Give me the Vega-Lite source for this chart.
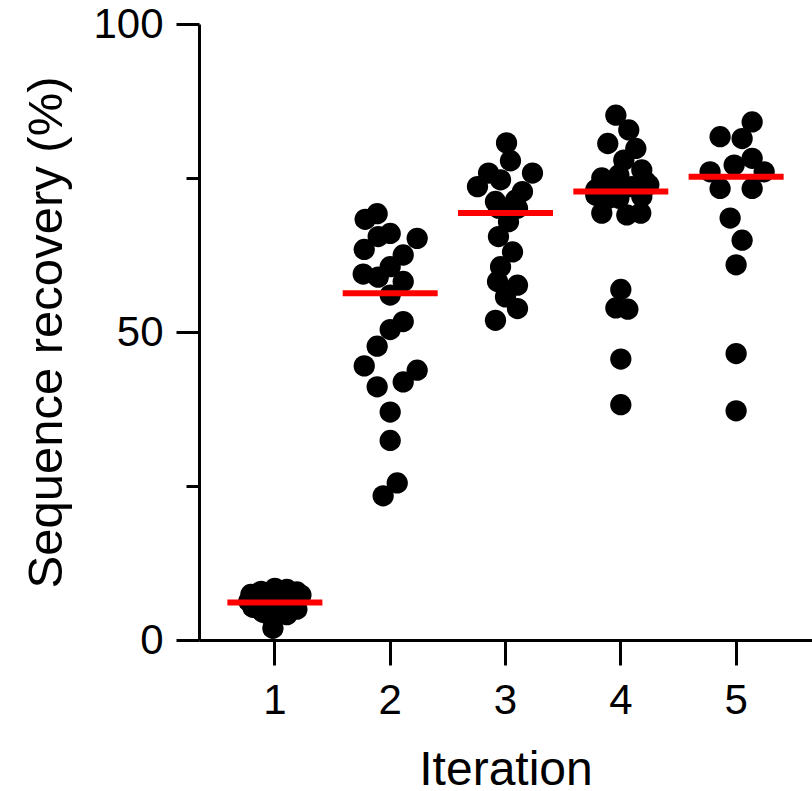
{
  "$schema": "https://vega.github.io/schema/vega-lite/v6.json",
  "width": 613,
  "height": 616,
  "padding": {"left": 199, "top": 24, "right": 0, "bottom": 151},
  "autosize": {"type": "none"},
  "background": "white",
  "config": {"view": {"stroke": null}, "font": "Liberation Sans"},
  "datasets": {
    "points": [
      {"iteration": "1", "recovery": 8.4, "jitter": 0},
      {"iteration": "1", "recovery": 8.2, "jitter": 0.104},
      {"iteration": "1", "recovery": 7.9, "jitter": -0.121},
      {"iteration": "1", "recovery": 7.8, "jitter": 0.191},
      {"iteration": "1", "recovery": 7.4, "jitter": -0.208},
      {"iteration": "1", "recovery": 7.3, "jitter": 0.226},
      {"iteration": "1", "recovery": 7.0, "jitter": -0.043},
      {"iteration": "1", "recovery": 6.9, "jitter": 0.069},
      {"iteration": "1", "recovery": 6.6, "jitter": -0.147},
      {"iteration": "1", "recovery": 6.3, "jitter": -0.226},
      {"iteration": "1", "recovery": 6.2, "jitter": 0.147},
      {"iteration": "1", "recovery": 6.0, "jitter": 0},
      {"iteration": "1", "recovery": 5.7, "jitter": -0.087},
      {"iteration": "1", "recovery": 5.5, "jitter": 0.104},
      {"iteration": "1", "recovery": 5.3, "jitter": -0.191},
      {"iteration": "1", "recovery": 5.0, "jitter": 0.191},
      {"iteration": "1", "recovery": 4.8, "jitter": 0.026},
      {"iteration": "1", "recovery": 4.5, "jitter": -0.104},
      {"iteration": "1", "recovery": 4.1, "jitter": 0.104},
      {"iteration": "1", "recovery": 4.0, "jitter": -0.043},
      {"iteration": "1", "recovery": 1.9, "jitter": -0.017},
      {"iteration": "2", "recovery": 68.3, "jitter": -0.217},
      {"iteration": "2", "recovery": 69.2, "jitter": -0.113},
      {"iteration": "2", "recovery": 65.5, "jitter": -0.104},
      {"iteration": "2", "recovery": 66.0, "jitter": 0},
      {"iteration": "2", "recovery": 65.2, "jitter": 0.234},
      {"iteration": "2", "recovery": 63.4, "jitter": -0.225},
      {"iteration": "2", "recovery": 62.5, "jitter": 0.113},
      {"iteration": "2", "recovery": 60.6, "jitter": 0},
      {"iteration": "2", "recovery": 59.4, "jitter": -0.234},
      {"iteration": "2", "recovery": 58.9, "jitter": -0.104},
      {"iteration": "2", "recovery": 58.2, "jitter": 0.113},
      {"iteration": "2", "recovery": 56.0, "jitter": 0},
      {"iteration": "2", "recovery": 51.7, "jitter": 0.113},
      {"iteration": "2", "recovery": 50.4, "jitter": 0},
      {"iteration": "2", "recovery": 47.7, "jitter": -0.113},
      {"iteration": "2", "recovery": 44.5, "jitter": -0.225},
      {"iteration": "2", "recovery": 43.8, "jitter": 0.234},
      {"iteration": "2", "recovery": 41.9, "jitter": 0.113},
      {"iteration": "2", "recovery": 41.1, "jitter": -0.113},
      {"iteration": "2", "recovery": 37.0, "jitter": 0},
      {"iteration": "2", "recovery": 32.4, "jitter": 0},
      {"iteration": "2", "recovery": 25.5, "jitter": 0.061},
      {"iteration": "2", "recovery": 23.4, "jitter": -0.061},
      {"iteration": "3", "recovery": 80.7, "jitter": 0.009},
      {"iteration": "3", "recovery": 77.8, "jitter": 0.043},
      {"iteration": "3", "recovery": 75.8, "jitter": -0.147},
      {"iteration": "3", "recovery": 75.8, "jitter": 0.234},
      {"iteration": "3", "recovery": 73.6, "jitter": -0.243},
      {"iteration": "3", "recovery": 74.7, "jitter": -0.043},
      {"iteration": "3", "recovery": 72.8, "jitter": 0.147},
      {"iteration": "3", "recovery": 71.2, "jitter": -0.087},
      {"iteration": "3", "recovery": 71.4, "jitter": 0.087},
      {"iteration": "3", "recovery": 70.1, "jitter": -0.061},
      {"iteration": "3", "recovery": 70.1, "jitter": 0.104},
      {"iteration": "3", "recovery": 67.9, "jitter": 0.026},
      {"iteration": "3", "recovery": 65.5, "jitter": -0.061},
      {"iteration": "3", "recovery": 63.0, "jitter": 0.061},
      {"iteration": "3", "recovery": 60.6, "jitter": -0.043},
      {"iteration": "3", "recovery": 58.2, "jitter": -0.069},
      {"iteration": "3", "recovery": 57.6, "jitter": 0.104},
      {"iteration": "3", "recovery": 55.7, "jitter": 0},
      {"iteration": "3", "recovery": 53.8, "jitter": 0.104},
      {"iteration": "3", "recovery": 51.9, "jitter": -0.087},
      {"iteration": "4", "recovery": 85.2, "jitter": -0.043},
      {"iteration": "4", "recovery": 82.8, "jitter": 0.069},
      {"iteration": "4", "recovery": 80.6, "jitter": -0.113},
      {"iteration": "4", "recovery": 79.8, "jitter": 0.130},
      {"iteration": "4", "recovery": 77.9, "jitter": 0.026},
      {"iteration": "4", "recovery": 76.3, "jitter": 0.182},
      {"iteration": "4", "recovery": 75.0, "jitter": -0.165},
      {"iteration": "4", "recovery": 75.5, "jitter": -0.017},
      {"iteration": "4", "recovery": 74.4, "jitter": 0.217},
      {"iteration": "4", "recovery": 73.1, "jitter": -0.217},
      {"iteration": "4", "recovery": 73.3, "jitter": -0.043},
      {"iteration": "4", "recovery": 73.6, "jitter": 0.095},
      {"iteration": "4", "recovery": 73.9, "jitter": 0.243},
      {"iteration": "4", "recovery": 72.2, "jitter": -0.217},
      {"iteration": "4", "recovery": 71.7, "jitter": -0.104},
      {"iteration": "4", "recovery": 72.0, "jitter": 0.182},
      {"iteration": "4", "recovery": 69.3, "jitter": -0.165},
      {"iteration": "4", "recovery": 69.0, "jitter": 0.052},
      {"iteration": "4", "recovery": 69.3, "jitter": 0.173},
      {"iteration": "4", "recovery": 71.7, "jitter": -0.017},
      {"iteration": "4", "recovery": 56.9, "jitter": 0},
      {"iteration": "4", "recovery": 53.9, "jitter": -0.043},
      {"iteration": "4", "recovery": 53.7, "jitter": 0.061},
      {"iteration": "4", "recovery": 45.6, "jitter": 0},
      {"iteration": "4", "recovery": 38.2, "jitter": 0},
      {"iteration": "5", "recovery": 84.1, "jitter": 0.139},
      {"iteration": "5", "recovery": 81.7, "jitter": -0.139},
      {"iteration": "5", "recovery": 81.4, "jitter": 0.052},
      {"iteration": "5", "recovery": 78.2, "jitter": 0.139},
      {"iteration": "5", "recovery": 77.1, "jitter": -0.017},
      {"iteration": "5", "recovery": 76.0, "jitter": -0.226},
      {"iteration": "5", "recovery": 76.0, "jitter": 0.243},
      {"iteration": "5", "recovery": 73.3, "jitter": -0.139},
      {"iteration": "5", "recovery": 73.3, "jitter": 0.139},
      {"iteration": "5", "recovery": 68.5, "jitter": -0.052},
      {"iteration": "5", "recovery": 64.9, "jitter": 0.052},
      {"iteration": "5", "recovery": 60.9, "jitter": 0},
      {"iteration": "5", "recovery": 46.5, "jitter": 0},
      {"iteration": "5", "recovery": 37.2, "jitter": 0}
    ],
    "medians": [
      {"iteration": "1", "median": 6.1},
      {"iteration": "2", "median": 56.3},
      {"iteration": "3", "median": 69.3},
      {"iteration": "4", "median": 72.8},
      {"iteration": "5", "median": 75.2}
    ]
  },
  "layer": [
    {
      "data": {"name": "points"},
      "mark": {"type": "circle", "size": 452, "opacity": 1, "color": "black"},
      "encoding": {
        "x": {
          "field": "iteration",
          "type": "nominal",
          "scale": {"type": "band", "paddingInner": 0, "paddingOuter": 0.158},
          "axis": {
            "title": "Iteration",
            "labelAngle": 0,
            "tickSize": 25,
            "tickWidth": 3,
            "tickColor": "black",
            "domainColor": "black",
            "domainWidth": 3,
            "labelFontSize": 42,
            "labelColor": "black",
            "labelPadding": 15,
            "labelFont": "Liberation Sans",
            "titleFont": "Liberation Sans",
            "titleFontSize": 48,
            "titleFontWeight": "normal",
            "titleColor": "black",
            "titlePadding": 25,
            "grid": false
          }
        },
        "xOffset": {"field": "jitter", "type": "quantitative", "scale": {"domain": [-0.5, 0.5]}},
        "y": {
          "field": "recovery",
          "type": "quantitative",
          "scale": {"domain": [0, 100]},
          "axis": {
            "title": "Sequence recovery (%)",
            "values": [0, 25, 50, 75, 100],
            "labelExpr": "datum.value % 50 === 0 ? datum.label : ''",
            "tickSize": {"condition": {"test": "datum.value % 50 === 0", "value": 23}, "value": 13},
            "tickWidth": 3,
            "tickColor": "black",
            "domainColor": "black",
            "domainWidth": 3,
            "labelFontSize": 42,
            "labelColor": "black",
            "labelPadding": 13,
            "labelFont": "Liberation Sans",
            "titleFont": "Liberation Sans",
            "titleFontSize": 49,
            "titleFontWeight": "normal",
            "titleColor": "black",
            "titlePadding": 21,
            "grid": false
          }
        }
      }
    },
    {
      "data": {"name": "medians"},
      "mark": {"type": "tick", "color": "#ff0000", "size": 95, "thickness": 6, "opacity": 1},
      "encoding": {
        "x": {"field": "iteration", "type": "nominal"},
        "y": {"field": "median", "type": "quantitative"}
      }
    }
  ]
}
